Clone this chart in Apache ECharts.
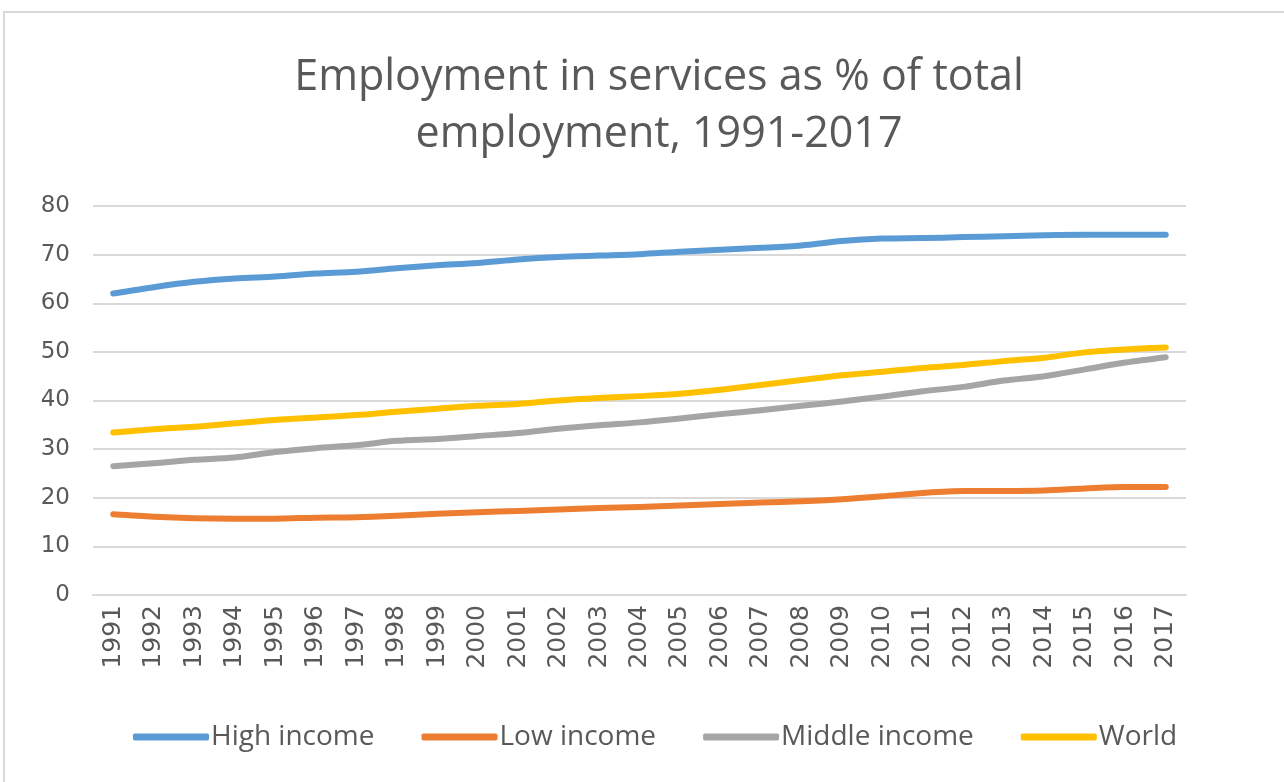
<!DOCTYPE html>
<html>
<head>
<meta charset="utf-8">
<script src="https://cdn.jsdelivr.net/npm/echarts@6/dist/echarts.min.js"></script>
<style>
html,body{margin:0;padding:0;background:#fff;}
#chart{width:1284px;height:782px;}
</style>
</head>
<body>
<div id="chart"></div>
<script>
const years = ['1991','1992','1993','1994','1995','1996','1997','1998','1999','2000','2001','2002','2003','2004','2005','2006','2007','2008','2009','2010','2011','2012','2013','2014','2015','2016','2017'];
const highIncome = [62.0,63.3,64.4,65.1,65.5,66.1,66.5,67.2,67.8,68.3,69.0,69.5,69.8,70.1,70.6,71.0,71.4,71.9,72.8,73.3,73.4,73.6,73.8,74.0,74.1,74.1,74.1];
const lowIncome = [16.6,16.1,15.8,15.7,15.7,15.9,16.0,16.3,16.7,17.0,17.3,17.6,17.9,18.1,18.4,18.7,19.0,19.3,19.7,20.3,21.0,21.4,21.4,21.5,21.9,22.2,22.2];
const middleIncome = [26.5,27.1,27.8,28.3,29.4,30.2,30.8,31.7,32.1,32.7,33.3,34.2,34.9,35.5,36.3,37.2,38.0,38.9,39.8,40.8,41.9,42.8,44.1,45.0,46.4,47.8,48.9];
const world = [33.4,34.1,34.6,35.3,36.0,36.5,37.0,37.7,38.3,38.9,39.3,40.0,40.5,40.9,41.4,42.2,43.2,44.2,45.2,45.9,46.7,47.3,48.1,48.8,49.9,50.5,50.9];
const seriesNames = ['High income','Low income','Middle income','World'];
const seriesColors = ['#5B9BD5','#ED7D31','#A5A5A5','#FFC000'];
const titleText = 'Employment in services as % of total\nemployment, 1991-2017';

const chart = echarts.init(document.getElementById('chart'), null, {renderer:'canvas'});
const dataSets = [highIncome, lowIncome, middleIncome, world];
chart.setOption({
  animation:false,
  backgroundColor:'#fff',
  graphic:[{type:'rect',shape:{x:4,y:12,width:1300,height:800},style:{fill:'none',stroke:'#D9D9D9',lineWidth:2},silent:true,z:-1}],
  title:{
    text:titleText,
    left:654, top:44, textAlign:'center',
    textStyle:{fontFamily:'"Open Sans", Lato, sans-serif',fontSize:43,fontWeight:'normal',color:'#595959',lineHeight:57}
  },
  grid:{left:93,right:98,top:206,bottom:187,containLabel:false},
  legend:{
    data:seriesNames,
    left:128, top:718,
    itemWidth:76, itemHeight:7, itemGap:47,
    icon:'roundRect',
    textStyle:{fontFamily:'"Open Sans", Lato, sans-serif',fontSize:28,color:'#595959',padding:[0,0,0,-3]}
  },
  xAxis:{
    type:'category', data:years, boundaryGap:true,
    axisLine:{show:true,lineStyle:{color:'#D9D9D9',width:2}},
    axisTick:{show:false},
    axisLabel:{rotate:90,margin:10,fontFamily:'"DejaVu Sans", sans-serif',fontSize:25,color:'#595959',interval:0}
  },
  yAxis:{
    type:'value', min:0, max:80, interval:10,
    axisLine:{show:false}, axisTick:{show:false},
    axisLabel:{margin:23,fontFamily:'"DejaVu Sans", sans-serif',fontSize:23,color:'#595959'},
    splitLine:{lineStyle:{color:'#D9D9D9',width:2}}
  },
  series:seriesNames.map((n,i)=>({
    name:n, type:'line', data:dataSets[i], smooth:0.3, symbol:'none',
    lineStyle:{color:seriesColors[i],width:6,cap:'round',join:'round'},
    itemStyle:{color:seriesColors[i]}
  }))
});
</script>
</body>
</html>
